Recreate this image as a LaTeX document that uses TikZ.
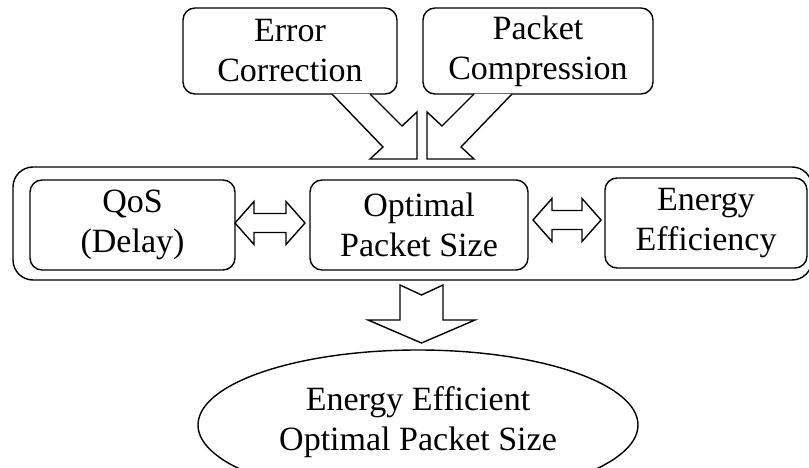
\documentclass[tikz,border=0pt]{standalone}
\usepackage{fontspec}
\setmainfont{Liberation Serif}
\usetikzlibrary{shapes.geometric}
\begin{document}
\begin{tikzpicture}[x=1pt,y=-1pt,
  box/.style={draw, line width=1.4pt, rounded corners=12pt, align=center,
    inner sep=0pt, font=\fontsize{34}{40}\selectfont},
  blockarrow/.style={draw, line width=1.4pt, fill=white, line join=miter},
]
\useasboundingbox (0,0) rectangle (809,468);
% outer container
\node[box, rounded corners=20pt, minimum width=799pt, minimum height=113pt] (outer) at (412.5,223.5) {};
% top boxes
\node[box, minimum width=214pt, minimum height=86pt] (err) at (290,51) {Error\\Correction};
\node[box, minimum width=230pt, minimum height=86pt] (pc) at (538,51) {Packet\\Compression};
% inner boxes
\node[box, minimum width=205pt, minimum height=90pt] (qos) at (132.5,225) {QoS\\(Delay)};
\node[box, minimum width=218pt, minimum height=90pt] (opt) at (419,225) {Optimal\\Packet Size};
\node[box, minimum width=202pt, minimum height=90pt] (ee) at (706,223) {Energy\\Efficiency};
% result ellipse
\node[draw, ellipse, line width=1.4pt, minimum width=440pt, minimum height=150pt, inner sep=0pt] (res) at (418,425) {};
\node[align=center, inner sep=0pt, font=\fontsize{34}{40}\selectfont] (restext) at (418,422) {Energy Efficient\\Optimal Packet Size};
% diagonal block arrows into the container
\draw[blockarrow] (332,94) -- (383,147) -- (370,159) -- (417,159) -- (417,112) -- (402,126) -- (370,94);
\draw[blockarrow] (512,94) -- (461,147) -- (474,159) -- (427,159) -- (427,112) -- (442,126) -- (474,94);
% double arrows
\draw[blockarrow] (235,223) -- (254,201.5) -- (254,213.5) -- (286,213.5) -- (286,201.5) -- (305,223)
  -- (286,244.5) -- (286,232.5) -- (254,232.5) -- (254,244.5) -- cycle;
\draw[blockarrow] (533,220) -- (552,198.5) -- (552,210.5) -- (582,210.5) -- (582,198.5) -- (601,220)
  -- (582,241.5) -- (582,229.5) -- (552,229.5) -- (552,241.5) -- cycle;
% down arrow
\draw[blockarrow] (400,285) -- (421.5,295) -- (443,285) -- (443,320) -- (475,320) -- (421.5,343)
  -- (368,320) -- (400,320) -- cycle;
\end{tikzpicture}
\end{document}
